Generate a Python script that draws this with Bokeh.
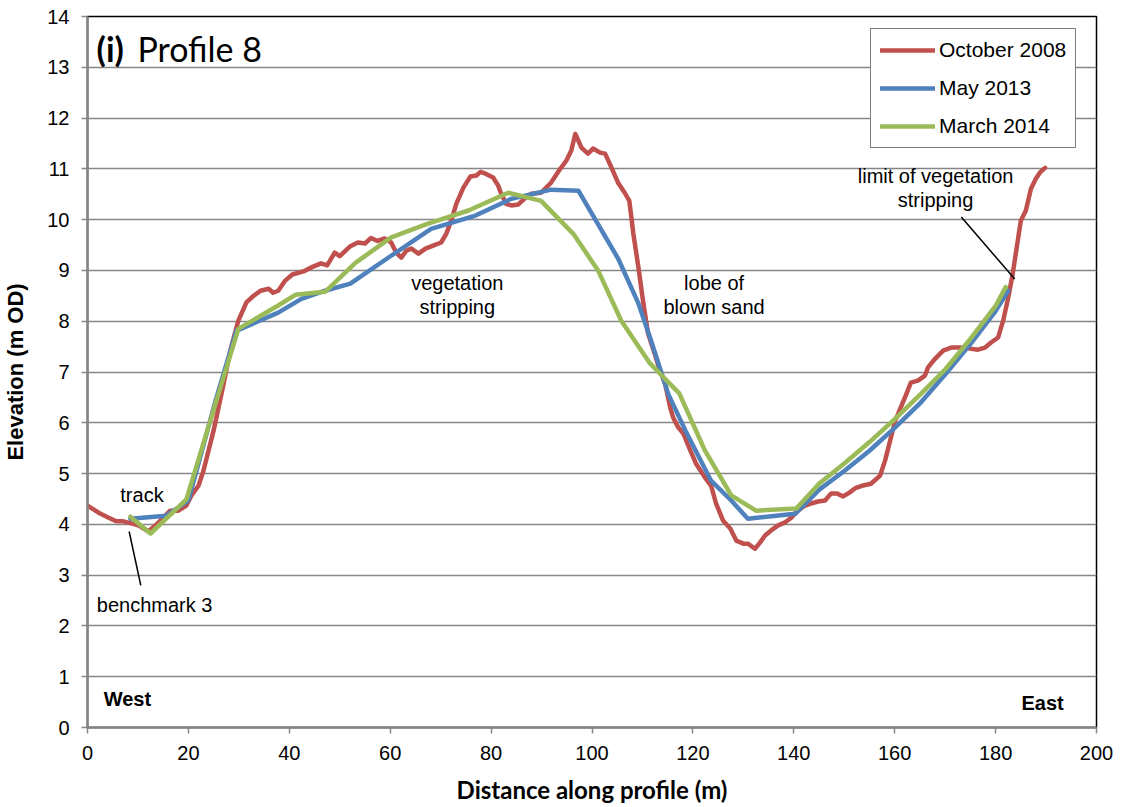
from bokeh.plotting import figure
from bokeh.models import Range1d, Legend, LegendItem, FixedTicker
from bokeh.core.properties import value
from bokeh.embed import file_html
from bokeh.resources import INLINE

# ---- data ----
oct2008_x = [0, 2.2, 4.2, 5.7, 7.1, 8.7, 10.1, 12.1, 14.1, 16.4, 18, 19.6, 20.6, 22, 23, 25, 26.9, 28.3, 29.9,
             31.5, 32.9, 34.3, 35.9, 36.8, 37.8, 39.2, 40.6, 42.8, 44.6, 46.3, 47.5, 49.0, 50.0, 52.0, 53.6,
             55.0, 56.2, 57.5, 58.9, 60.2, 61.2, 62.2, 63.2, 64.2, 65.6, 67.0, 68.5, 70.1, 71.1, 72.1, 73.1,
             74.5, 75.9, 77.1, 77.9, 79.0, 80.4, 81.4, 82.0, 83.0, 84.0, 85.4, 86.8, 88.0, 89.9, 91.9, 93.7,
             94.9, 95.9, 96.7, 97.9, 99.2, 100.2, 101.6, 102.6, 103.8, 105.2, 106.6, 107.4, 108.2, 109.2,
             110.1, 111.1, 112.3, 113.4, 114.5, 115.5, 116.1, 117.1, 118.1, 119.5, 120.6, 122.4, 123.6,
             124.6, 126.0, 127.4, 128.6, 130.0, 130.9, 132.3, 133.3, 134.3, 135.5, 136.9, 138.3, 139.5,
             140.8, 142.2, 143.4, 144.8, 146.2, 147.4, 148.5, 149.8, 151.1, 152.3, 153.5, 155.3, 157.1,
             158.1, 159.1, 160.1, 161.1, 162.2, 163.2, 164.6, 166.0, 166.6, 168.0, 169.6, 171.2, 173.2,
             174.9, 176.5, 177.9, 179.1, 180.5, 181.5, 182.5, 183.4, 184.4, 185.0, 186.0, 187.0, 188.0,
             188.8, 189.8]
oct2008_y = [4.37, 4.23, 4.13, 4.06, 4.06, 4.02, 3.98, 3.86, 4.04, 4.27, 4.27, 4.37, 4.57, 4.76, 5.06, 5.85,
             6.73, 7.42, 8.01, 8.37, 8.50, 8.60, 8.64, 8.56, 8.60, 8.80, 8.92, 8.98, 9.07, 9.14, 9.10, 9.35,
             9.28, 9.47, 9.55, 9.53, 9.64, 9.58, 9.63, 9.55, 9.35, 9.25, 9.39, 9.43, 9.33, 9.43, 9.49, 9.55,
             9.72, 9.98, 10.31, 10.63, 10.85, 10.87, 10.94, 10.90, 10.83, 10.67, 10.51, 10.31, 10.28, 10.30,
             10.43, 10.51, 10.53, 10.73, 11.0, 11.16, 11.36, 11.69, 11.42, 11.30, 11.40, 11.32, 11.30,
             11.04, 10.72, 10.51, 10.37, 9.72, 9.06, 8.41, 7.76, 7.40, 7.05, 6.77, 6.30, 6.10, 5.91, 5.79,
             5.45, 5.20, 4.92, 4.76, 4.41, 4.07, 3.92, 3.68, 3.62, 3.62, 3.52, 3.64, 3.78, 3.88, 3.98, 4.04,
             4.13, 4.27, 4.37, 4.41, 4.45, 4.47, 4.61, 4.61, 4.55, 4.63, 4.72, 4.76, 4.80, 4.96, 5.26, 5.65,
             6.04, 6.28, 6.54, 6.79, 6.83, 6.93, 7.09, 7.26, 7.42, 7.48, 7.48, 7.46, 7.44, 7.48, 7.58, 7.68,
             8.01, 8.46, 8.94, 9.59, 9.98, 10.18, 10.61, 10.81, 10.93, 11.02]

may2013_x = [8.5, 15.6, 20.0, 25.4, 29.5, 37.8, 42.4, 47.1, 52.1, 59.6, 68.1, 76.9, 84.0, 91.9, 97.3,
             105.2, 109.2, 111.7, 115.1, 118.5, 123.6, 127.6, 130.9, 140.3, 145, 150, 155, 160, 165, 170,
             175, 180, 182.5]
may2013_y = [4.11, 4.17, 4.47, 6.44, 7.81, 8.17, 8.44, 8.60, 8.74, 9.25, 9.82, 10.08, 10.41, 10.59, 10.57,
             9.23, 8.35, 7.62, 6.57, 5.85, 4.86, 4.47, 4.11, 4.21, 4.68, 5.05, 5.45, 5.90, 6.38, 6.95,
             7.55, 8.20, 8.60]

mar2014_x = [8.5, 12.5, 19.6, 25.6, 29.9, 37.8, 41.2, 47.1, 53.1, 60.2, 67.5, 75.5, 83.4, 89.9, 96.3,
             101.2, 105.8, 111.4, 117.3, 122.4, 127.6, 132.5, 140.5, 145, 150, 155, 160, 165, 170, 175,
             180, 182]
mar2014_y = [4.15, 3.82, 4.49, 6.45, 7.85, 8.31, 8.52, 8.58, 9.15, 9.65, 9.92, 10.18, 10.53, 10.37, 9.72,
             9.00, 8.01, 7.18, 6.58, 5.45, 4.57, 4.27, 4.31, 4.80, 5.20, 5.62, 6.07, 6.55, 7.05, 7.65,
             8.30, 8.67]

series_names = ["October 2008", "May 2013", "March 2014"]
series_colors = ["#C0504D", "#4F81BD", "#9BBB59"]

x_ticks = list(range(0, 201, 20))
y_ticks = list(range(0, 15))

# annotations (text, x, y)
note_text = ["track", "benchmark 3", "vegetation\nstripping", "lobe of\nblown sand",
             "limit of vegetation\nstripping"]
note_x = [10.8, 13.3, 73.3, 124.2, 168.1]
note_y = [4.57, 2.42, 8.52, 8.51, 10.62]
leader_x0 = [8.26, 173.2]
leader_y0 = [3.86, 10.05]
leader_x1 = [10.56, 183.8]
leader_y1 = [2.80, 8.83]

GRID = "#868686"
ARIAL = "Liberation Sans"

p = figure(frame_width=1009, frame_height=711,
           x_range=Range1d(0, 200), y_range=Range1d(0, 14),
           output_backend="svg", toolbar_location=None,
           min_border_left=81, min_border_right=18, min_border_top=16, min_border_bottom=78)
p.background_fill_color = "white"
p.border_fill_color = "white"
p.outline_line_color = "black"
p.outline_line_width = 1.5

p.xgrid.grid_line_color = None
p.ygrid.grid_line_color = GRID
p.ygrid.grid_line_width = 1.5
p.ygrid.ticker = FixedTicker(ticks=y_ticks)

for ax in (p.xaxis[0], p.yaxis[0]):
    ax.axis_line_color = GRID
    ax.axis_line_width = 2.5
    ax.major_tick_line_color = GRID
    ax.major_tick_line_width = 1.5
    ax.major_tick_in = 0
    ax.major_tick_out = 6
    ax.minor_tick_line_color = None
    ax.major_label_text_font = ARIAL
    ax.major_label_text_font_size = "20px"
    ax.major_label_text_color = "black"

p.xaxis.ticker = FixedTicker(ticks=x_ticks)
p.yaxis.ticker = FixedTicker(ticks=y_ticks)
p.xaxis.major_label_standoff = 12
p.yaxis.major_label_standoff = 12

p.xaxis.axis_label = "Distance along profile (m)"
p.xaxis.axis_label_text_font = "Lato"
p.xaxis.axis_label_text_font_style = "bold"
p.xaxis.axis_label_text_font_size = "24px"
p.xaxis.axis_label_text_color = "black"
p.xaxis.axis_label_standoff = 12

p.yaxis.axis_label = "Elevation (m OD)"
p.yaxis.axis_label_text_font = ARIAL
p.yaxis.axis_label_text_font_style = "bold"
p.yaxis.axis_label_text_font_size = "22px"
p.yaxis.axis_label_text_color = "black"
p.yaxis.axis_label_standoff = 16

# series
renderers = []
for xs, ys, col in [(oct2008_x, oct2008_y, series_colors[0]),
                    (may2013_x, may2013_y, series_colors[1]),
                    (mar2014_x, mar2014_y, series_colors[2])]:
    r = p.line(xs, ys, line_color=col, line_width=4.5, line_join="round", line_cap="round")
    renderers.append(r)

# leaders
p.segment(x0=leader_x0, y0=leader_y0, x1=leader_x1, y1=leader_y1, line_color="black", line_width=1.5)

# annotation texts
p.text(x=note_x, y=note_y, text=note_text, text_font=value(ARIAL), text_font_size="20px",
       text_align="center", text_baseline="middle", text_color="black", text_line_height=1.1)

p.text(x=[3.2], y=[0.57], text=["West"], text_font=value(ARIAL), text_font_style="bold",
       text_font_size="20px", text_align="left", text_baseline="middle", text_color="black")
p.text(x=[193.5], y=[0.48], text=["East"], text_font=value(ARIAL), text_font_style="bold",
       text_font_size="20px", text_align="right", text_baseline="middle", text_color="black")

# panel title
p.text(x=[1.8], y=[13.37], text=["(i)"], text_font=value("Lato"), text_font_style="bold",
       text_font_size="34px", text_align="left", text_baseline="middle", text_color="black")
p.text(x=[9.9], y=[13.37], text=["Profile 8"], text_font=value("Lato"),
       text_font_size="34px", text_align="left", text_baseline="middle", text_color="black")

legend = Legend(items=[LegendItem(label=n, renderers=[r]) for n, r in zip(series_names, renderers)],
                location=(783, 579))
legend.label_text_font = ARIAL
legend.label_text_font_size = "21px"
legend.label_text_color = "black"
legend.glyph_width = 55
legend.glyph_height = 20
legend.label_height = 20
legend.label_standoff = 4
legend.spacing = 14
legend.padding = 9
legend.margin = 0
legend.border_line_color = "black"
legend.border_line_width = 1.5
legend.background_fill_alpha = 1.0
p.add_layout(legend)

open("out.html", "w").write(file_html(p, INLINE))
